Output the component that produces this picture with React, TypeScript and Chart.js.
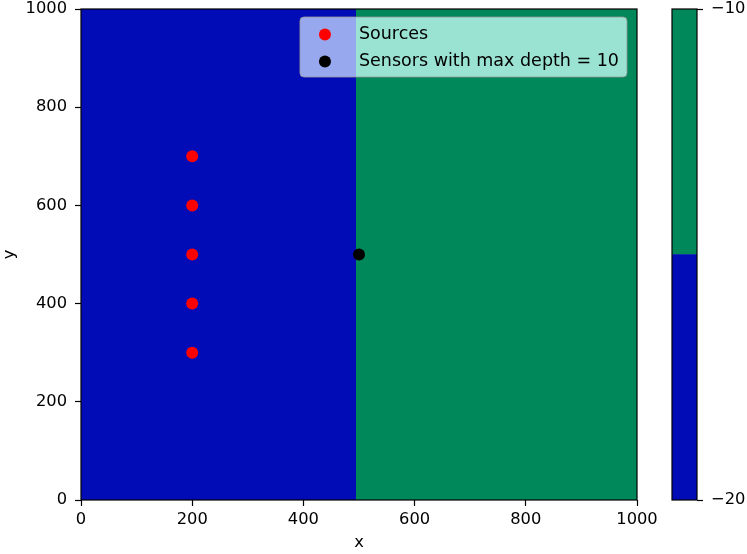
import React, { useEffect, useRef } from "react";
import { Chart, registerables } from "chart.js";
Chart.register(...registerables);

const xTicks = [0, 200, 400, 600, 800, 1000];
const yTicks = [0, 200, 400, 600, 800, 1000];
const regionEdges = [0, 495, 1000];
const regionColors = ["#020cb6", "#00875a"];
const legendBgColors = ["#98a8ee", "#9ae2d2"];
const sourceX = [200, 200, 200, 200, 200];
const sourceY = [300, 400, 500, 600, 700];
const sensorX = [500];
const sensorY = [500];
const seriesLabels = ["Sources", "Sensors with max depth = 10"];
const seriesColors = ["#ff0000", "#000000"];
const cbarLevels = [-20, -15, -10];
const cbarTicks = [-20, -10];

const FONT = "'DejaVu Sans', sans-serif";
const FS = 16.3;
const LFS = 17.5;

const fmt = (v: number) => (v < 0 ? "\u2212" + Math.abs(v) : String(v));

const regionPlugin = {
  id: "regions",
  beforeDatasetsDraw(chart: any) {
    const { ctx, chartArea, scales } = chart;
    const xs = scales.x;
    ctx.save();
    for (let i = 0; i < regionColors.length; i++) {
      const x0 = Math.round(xs.getPixelForValue(regionEdges[i]));
      const x1 = Math.round(xs.getPixelForValue(regionEdges[i + 1]));
      ctx.fillStyle = regionColors[i];
      ctx.fillRect(x0, chartArea.top, x1 - x0, chartArea.bottom - chartArea.top);
    }
    ctx.restore();
  },
};

const framePlugin = {
  id: "frame",
  afterDatasetsDraw(chart: any) {
    const { ctx, chartArea } = chart;
    ctx.save();
    ctx.strokeStyle = "#000";
    ctx.lineWidth = 1.2;
    ctx.strokeRect(chartArea.left, chartArea.top, chartArea.right - chartArea.left, chartArea.bottom - chartArea.top);
    ctx.restore();
  },
};

function roundRectPath(ctx: any, left: number, top: number, w: number, h: number, r: number) {
  ctx.beginPath();
  ctx.moveTo(left + r, top);
  ctx.lineTo(left + w - r, top);
  ctx.quadraticCurveTo(left + w, top, left + w, top + r);
  ctx.lineTo(left + w, top + h - r);
  ctx.quadraticCurveTo(left + w, top + h, left + w - r, top + h);
  ctx.lineTo(left + r, top + h);
  ctx.quadraticCurveTo(left, top + h, left, top + h - r);
  ctx.lineTo(left, top + r);
  ctx.quadraticCurveTo(left, top, left + r, top);
  ctx.closePath();
}

const legendPlugin = {
  id: "mplLegend",
  afterDraw(chart: any) {
    const { ctx, chartArea, scales } = chart;
    ctx.save();
    ctx.font = `${LFS}px ${FONT}`;
    const tw = Math.max(...seriesLabels.map((l) => ctx.measureText(l).width));
    const w = 59 + tw + 8;
    const h = 60;
    const right = chartArea.right - 10;
    const top = chartArea.top + 8;
    const left = right - w;
    const r = 4;
    ctx.save();
    roundRectPath(ctx, left, top, w, h, r);
    ctx.clip();
    for (let i = 0; i < legendBgColors.length; i++) {
      const x0 = Math.round(scales.x.getPixelForValue(regionEdges[i]));
      const x1 = Math.round(scales.x.getPixelForValue(regionEdges[i + 1]));
      ctx.fillStyle = legendBgColors[i];
      ctx.fillRect(x0, top, x1 - x0, h);
    }
    ctx.restore();
    roundRectPath(ctx, left, top, w, h, r);
    ctx.strokeStyle = "rgba(150,150,150,0.8)";
    ctx.lineWidth = 1;
    ctx.stroke();
    const rows = [17, 44];
    seriesLabels.forEach((lab, i) => {
      const cy = top + rows[i];
      ctx.beginPath();
      ctx.arc(left + 25, cy + 0.5, 6, 0, Math.PI * 2);
      ctx.fillStyle = seriesColors[i];
      ctx.fill();
      ctx.fillStyle = "#000";
      ctx.textBaseline = "middle";
      ctx.textAlign = "left";
      ctx.fillText(lab, left + 59, cy);
    });
    ctx.restore();
  },
};

const cbarFramePlugin = {
  id: "cbarFrame",
  afterDatasetsDraw(chart: any) {
    const { ctx, chartArea } = chart;
    ctx.save();
    ctx.strokeStyle = "#000";
    ctx.lineWidth = 1.2;
    ctx.strokeRect(chartArea.left, chartArea.top, chartArea.right - chartArea.left, chartArea.bottom - chartArea.top);
    ctx.restore();
  },
};

const zeroPad = (s: any) => {
  s.paddingTop = 0;
  s.paddingBottom = 0;
  s.paddingLeft = 0;
  s.paddingRight = 0;
};

export default function App() {
  const mainRef = useRef<HTMLCanvasElement>(null);
  const cbarRef = useRef<HTMLCanvasElement>(null);

  useEffect(() => {
    const tickFont = { family: FONT, size: FS, lineHeight: 1 };
    const main = new Chart(mainRef.current!, {
      type: "scatter",
      data: {
        datasets: [
          {
            label: seriesLabels[0],
            data: sourceX.map((x, i) => ({ x, y: sourceY[i] })),
            backgroundColor: seriesColors[0],
            borderColor: seriesColors[0],
            pointRadius: 6,
            borderWidth: 0,
          },
          {
            label: seriesLabels[1],
            data: sensorX.map((x, i) => ({ x, y: sensorY[i] })),
            backgroundColor: seriesColors[1],
            borderColor: seriesColors[1],
            pointRadius: 6,
            borderWidth: 0,
          },
        ],
      },
      options: {
        animation: false,
        responsive: false,
        maintainAspectRatio: false,
        layout: { padding: { top: 9, right: 23, left: 0, bottom: 0 } },
        plugins: { legend: { display: false }, tooltip: { enabled: false } },
        scales: {
          x: {
            type: "linear",
            min: 0,
            max: 1000,
            afterBuildTicks: (s: any) => {
              s.ticks = xTicks.map((v) => ({ value: v }));
            },
            afterFit: (s: any) => {
              s.height = 54;
              zeroPad(s);
            },
            ticks: { color: "#000", font: tickFont, padding: 6, maxRotation: 0, callback: (v: any) => fmt(v) },
            grid: { display: true, drawOnChartArea: false, tickLength: 6, tickColor: "#000", tickWidth: 1.2 },
            border: { display: false },
            title: { display: true, text: "x", color: "#000", font: { family: FONT, size: FS, lineHeight: 1.2 }, padding: { top: 0, bottom: 1 } },
          },
          y: {
            type: "linear",
            min: 0,
            max: 1000,
            afterBuildTicks: (s: any) => {
              s.ticks = yTicks.map((v) => ({ value: v }));
            },
            afterFit: (s: any) => {
              s.width = 81;
              zeroPad(s);
            },
            ticks: { color: "#000", font: tickFont, padding: 8, callback: (v: any) => fmt(v) },
            grid: { display: true, drawOnChartArea: false, tickLength: 6, tickColor: "#000", tickWidth: 1.2 },
            border: { display: false },
            title: { display: true, text: "y", color: "#000", font: { family: FONT, size: FS, lineHeight: 1.2 }, padding: { top: 0, bottom: 0 } },
          },
        },
      } as any,
      plugins: [regionPlugin, framePlugin, legendPlugin],
    });

    const cbar = new Chart(cbarRef.current!, {
      type: "bar",
      data: {
        labels: ["c"],
        datasets: regionColors.map((c, i) => ({
          data: [[cbarLevels[i], cbarLevels[i + 1]]],
          backgroundColor: c,
          borderWidth: 0,
          barPercentage: 1,
          categoryPercentage: 1,
          grouped: false,
        })) as any,
      },
      options: {
        animation: false,
        responsive: false,
        maintainAspectRatio: false,
        layout: { padding: { top: 9, left: 32, right: 0, bottom: 54 } },
        plugins: { legend: { display: false }, tooltip: { enabled: false } },
        scales: {
          x: { display: false },
          y: {
            position: "right",
            min: cbarLevels[0],
            max: cbarLevels[cbarLevels.length - 1],
            afterBuildTicks: (s: any) => {
              s.ticks = cbarTicks.map((v) => ({ value: v }));
            },
            afterFit: (s: any) => {
              s.width = 50;
              zeroPad(s);
            },
            ticks: { color: "#000", font: tickFont, padding: 8, callback: (v: any) => fmt(v) },
            grid: { display: true, drawOnChartArea: false, tickLength: 6, tickColor: "#000", tickWidth: 1.2 },
            border: { display: false },
          },
        },
      } as any,
      plugins: [cbarFramePlugin],
    });

    return () => {
      main.destroy();
      cbar.destroy();
    };
  }, []);

  return (
    <div style={{ position: "fixed", left: 0, top: 0, width: 747, height: 554, background: "#fff" }}>
      <canvas ref={mainRef} width={660} height={554} style={{ position: "absolute", left: 0, top: 0 }} />
      <canvas ref={cbarRef} width={107} height={554} style={{ position: "absolute", left: 640, top: 0 }} />
    </div>
  );
}
